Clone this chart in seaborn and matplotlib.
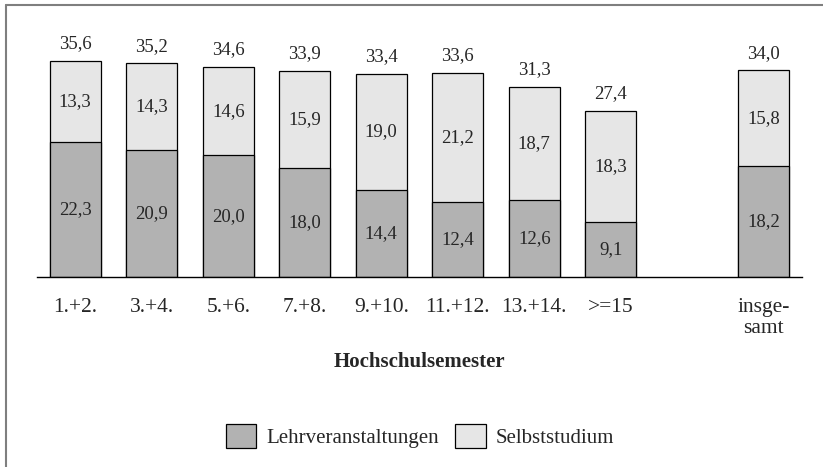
import numpy as np
import pandas as pd
import matplotlib
matplotlib.use("Agg")
import matplotlib.pyplot as plt
import seaborn as sns
from matplotlib.lines import Line2D
from matplotlib.patches import Patch

# Daten aus der Grafik
semester = ["1.+2.", "3.+4.", "5.+6.", "7.+8.", "9.+10.", "11.+12.", "13.+14.", ">=15", "insge-\nsamt"]
lehrveranstaltungen = [22.3, 20.9, 20.0, 18.0, 14.4, 12.4, 12.6, 9.1, 18.2]
selbststudium = [13.3, 14.3, 14.6, 15.9, 19.0, 21.2, 18.7, 18.3, 15.8]
gesamt = [35.6, 35.2, 34.6, 33.9, 33.4, 33.6, 31.3, 27.4, 34.0]

# Reihenfolge mit Lücke vor "insgesamt"
reihenfolge = semester[:-1] + [" "] + semester[-1:]

df = pd.DataFrame({"Semester": semester, "Lehr": lehrveranstaltungen,
                   "Selbst": selbststudium, "Gesamt": gesamt})

sns.set_style("white")
plt.rcParams["font.family"] = ["Liberation Serif", "DejaVu Serif"]

col_dunkel = "#b2b2b2"
col_hell = "#e6e6e6"

fig = plt.figure(figsize=(8.23, 4.67), dpi=100)
ax = fig.add_axes([37 / 823, 190 / 467, 765 / 823, 243 / 467])

# Gesamthöhe (hell) und darüber der untere Anteil (dunkel)
sns.barplot(data=df, x="Semester", y="Gesamt", order=reihenfolge, color=col_hell,
            saturation=1, width=0.67, edgecolor="black", linewidth=0.9, ax=ax)
sns.barplot(data=df, x="Semester", y="Lehr", order=reihenfolge, color=col_dunkel,
            saturation=1, width=0.67, edgecolor="black", linewidth=0.9, ax=ax)

def fmt(v):
    return f"{v:.1f}".replace(".", ",")

for i, row in df.iterrows():
    x = reihenfolge.index(row["Semester"])
    ax.text(x, row["Lehr"] / 2, fmt(row["Lehr"]), ha="center", va="center", fontsize=13.5)
    ax.text(x, row["Lehr"] + row["Selbst"] / 2, fmt(row["Selbst"]), ha="center", va="center", fontsize=13.5)
    ax.text(x, row["Gesamt"] + 2.8, fmt(row["Gesamt"]), ha="center", va="center", fontsize=13.5)

ax.set_ylim(0, 40)
ax.set_xlim(-0.5, len(reihenfolge) - 0.5)
ax.set_yticks([])
ax.set_ylabel("")
ax.set_xlabel("")
for s in ["top", "right", "left"]:
    ax.spines[s].set_visible(False)
ax.spines["bottom"].set_color("black")
ax.spines["bottom"].set_linewidth(1.0)

ax.set_xticks(range(len(reihenfolge)))
ax.set_xticklabels(reihenfolge, fontsize=15.5, va="top", linespacing=1.12)
ax.tick_params(axis="x", which="major", length=0, pad=15)
ax.set_xticks(np.arange(-0.5, len(reihenfolge), 1.0), minor=True)
ax.tick_params(axis="x", which="minor", length=7, width=1.0, direction="out", color="black")

fig.text(419 / 823, 1 - 362 / 467, "Hochschulsemester", ha="center", va="center",
         fontsize=15, fontweight="bold")

handles = [Patch(facecolor=col_dunkel, edgecolor="black", linewidth=0.9, label="Lehrveranstaltungen"),
           Patch(facecolor=col_hell, edgecolor="black", linewidth=0.9, label="Selbststudium")]
fig.legend(handles=handles, loc="center", bbox_to_anchor=(420 / 823, 1 - 436 / 467), ncol=2,
           frameon=False, fontsize=15, handlelength=1.45, handleheight=1.45,
           handletextpad=0.5, columnspacing=0.8)

# Rahmen oben und links
fig.add_artist(Line2D([6 / 823, 1], [1 - 5 / 467, 1 - 5 / 467], color="#7f7f7f", linewidth=1.5))
fig.add_artist(Line2D([6 / 823, 6 / 823], [0, 1 - 5 / 467], color="#7f7f7f", linewidth=1.5))

fig.savefig("out.png", dpi=100)
